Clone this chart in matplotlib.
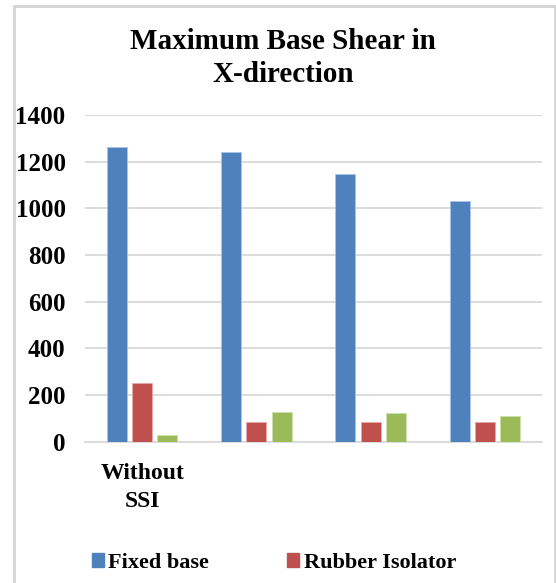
import matplotlib.pyplot as plt
import numpy as np
from matplotlib.patches import Patch, Rectangle

categories = ["Without\nSSI", "", "", ""]
fixed_base = [1264, 1242, 1146, 1033]
rubber_isolator = [253, 84, 84, 84]
third_series = [29, 129, 124, 111]
yticks = [0, 200, 400, 600, 800, 1000, 1200, 1400]

blue = '#4f81bd'
red = '#c0504d'
green = '#9bbb59'
grid_col = '#d9d9d9'

plt.rcParams['font.family'] = ['Liberation Serif', 'DejaVu Serif']
plt.rcParams['font.weight'] = 'bold'

fig = plt.figure(figsize=(5.56, 5.83), dpi=100)

# chart frame
fig.patches.append(Rectangle((14 / 556, -0.05), 541 / 556, 1.05 - 6 / 583,
                             transform=fig.transFigure, fill=False,
                             edgecolor='#d4d4d4', lw=2))

ax = fig.add_axes([85 / 556, 1 - 441.7 / 583, 457 / 556, 326.7 / 583])

x = np.arange(len(categories))
w = 0.175
step = 0.22
ax.bar(x - step, fixed_base, w, color=blue, edgecolor='#aac4e4', lw=0.6, zorder=3)
ax.bar(x, rubber_isolator, w, color=red, edgecolor='#e4aaa9', lw=0.6, zorder=3)
ax.bar(x + step, third_series, w, color=green, edgecolor='#cde0ad', lw=0.6, zorder=3)

ax.set_xlim(-0.5, 3.5)
ax.set_ylim(0, 1400)
ax.set_yticks(yticks)
ax.set_yticklabels([str(v) for v in yticks], fontsize=18, fontweight='bold')
ax.set_xticks(x)
ax.set_xticklabels(categories, fontsize=17, fontweight='bold', linespacing=1.45)
ax.tick_params(axis='y', length=0, pad=14)
ax.tick_params(axis='x', length=0, pad=15)
ax.yaxis.grid(True, color=grid_col, lw=1.3, zorder=0)
for s in ['top', 'right', 'left']:
    ax.spines[s].set_visible(False)
ax.spines['bottom'].set_color(grid_col)
ax.spines['bottom'].set_linewidth(1.3)

fig.text(283 / 556, 1 - 58 / 583, "Maximum Base Shear in\nX-direction",
         ha='center', va='center', fontsize=21, fontweight='bold',
         linespacing=1.3)

handles = [Patch(color=blue, label='Fixed base'),
           Patch(color=red, label='Rubber Isolator')]
fig.legend(handles=handles, loc='center', ncol=2,
           bbox_to_anchor=(274 / 556, 1 - 563 / 583), frameon=False,
           prop={'size': 16, 'weight': 'bold'}, handlelength=0.55,
           handleheight=0.6, handletextpad=0.2, columnspacing=3.5)

fig.savefig('out.png', dpi=100, facecolor='white')
